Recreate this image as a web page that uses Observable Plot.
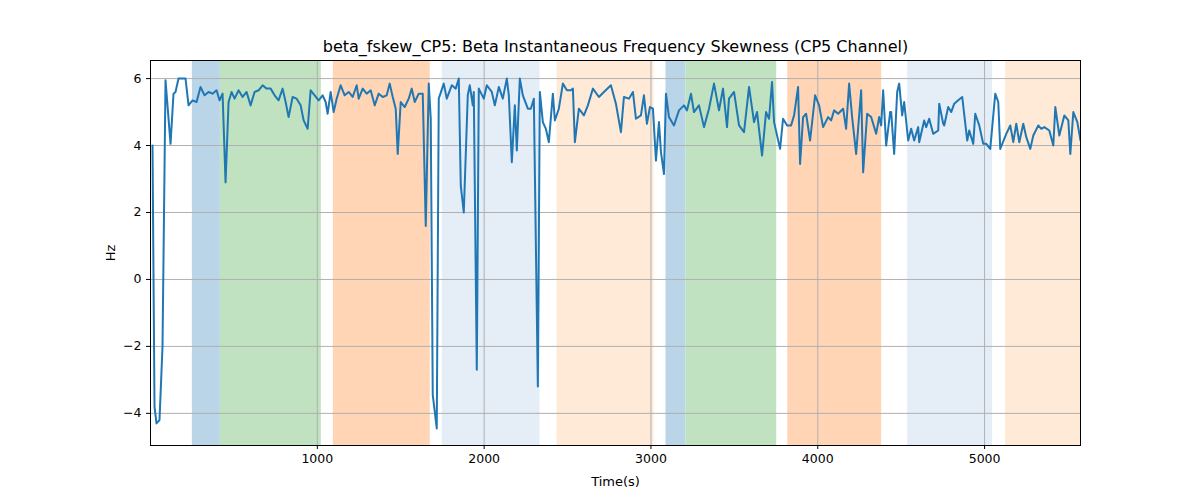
<!DOCTYPE html>
<html>
<head>
<meta charset="utf-8">
<script src="https://cdn.jsdelivr.net/npm/d3@7"></script>
<script src="https://cdn.jsdelivr.net/npm/@observablehq/plot@0.6"></script>
<style>
  body { margin: 0; background: #fff; font-family: "DejaVu Sans", sans-serif; }
</style>
</head>
<body>
<div id="chart"></div>
<script>
// shaded segments: start, end, colour
const spanStart = [251, 419, 1096, 1749, 2437, 3090, 3210, 3820, 4539, 5126];
const spanEnd   = [419, 1024, 1677, 2335, 3018, 3210, 3754, 4383, 5048, 5575];
const spanFill  = ["#bad4e8", "#c0e2c0", "#ffd5b5", "#e5edf7", "#feead6",
                   "#bad4e8", "#c0e2c0", "#ffd5b5", "#e5edf7", "#feead6"];

const times = [12,24,36,54,72,90,120,138,150,168,210,228,252,276,300,324,348,372,396,414,432,450,468,486,504,528,552,576,600,624,648,672,696,720,744,768,792,810,828,852,876,900,918,942,960,984,1008,1032,1050,1062,1080,1098,1116,1140,1164,1188,1212,1236,1248,1272,1296,1320,1344,1368,1392,1416,1434,1452,1470,1482,1500,1524,1548,1566,1584,1608,1632,1650,1668,1680,1692,1716,1728,1758,1776,1806,1830,1848,1860,1878,1902,1914,1932,1938,1956,1968,1998,2016,2046,2064,2088,2112,2136,2148,2166,2184,2196,2214,2232,2262,2280,2298,2322,2334,2352,2370,2388,2412,2424,2448,2472,2496,2520,2532,2544,2568,2598,2622,2652,2688,2718,2760,2790,2820,2838,2868,2892,2910,2940,2958,2976,2994,3012,3030,3048,3060,3078,3090,3108,3138,3168,3198,3216,3240,3258,3288,3318,3348,3378,3408,3432,3456,3468,3498,3528,3558,3588,3618,3636,3666,3690,3708,3726,3738,3774,3792,3816,3840,3858,3882,3894,3912,3930,3954,3984,4008,4032,4062,4080,4098,4122,4152,4170,4188,4206,4230,4260,4272,4296,4320,4350,4368,4380,4392,4410,4434,4440,4458,4476,4488,4506,4518,4542,4560,4578,4602,4608,4638,4650,4668,4692,4722,4728,4752,4758,4782,4800,4818,4842,4866,4896,4908,4932,4944,4968,4992,5010,5034,5064,5082,5094,5130,5154,5172,5190,5208,5232,5250,5274,5292,5322,5340,5358,5388,5412,5424,5448,5478,5502,5514,5532,5556,5575];

const values = [4.0,-3.8,-4.3,-4.2,-2,5.95,4.05,5.55,5.6,6.0,6.0,5.2,5.35,5.3,5.75,5.5,5.6,5.55,5.65,5.35,5.55,2.9,5.3,5.6,5.4,5.65,5.45,5.6,5.2,5.6,5.65,5.8,5.7,5.7,5.5,5.35,5.7,5.3,4.85,5.45,5.4,5.2,4.75,4.5,5.65,5.5,5.35,5.5,5.3,4.95,5.6,5.0,5.4,5.8,5.5,5.6,5.45,5.8,5.4,5.7,5.55,5.65,5.2,5.55,5.45,5.5,5.85,5.45,5.1,3.75,5.3,5.15,5.4,5.7,5.3,5.55,5.55,1.6,5.85,4.8,-3.45,-4.45,5.4,5.85,5.4,5.8,5.7,6.0,2.8,2.0,5.5,5.8,5.2,5.6,-2.7,5.7,5.4,5.8,5.6,5.2,5.75,5.4,6.0,5.5,3.5,5.2,3.85,6.0,5.5,5.1,5.1,5.4,-3.2,5.6,4.7,4.5,4.1,5.55,4.75,5.1,5.85,5.65,5.65,5.7,4.1,5.1,4.9,5.2,5.7,5.45,5.6,5.8,5.25,4.4,5.45,5.4,5.6,4.8,4.9,5.5,4.65,5.15,5.1,3.55,4.7,3.8,3.15,5.55,4.85,4.6,5.05,5.2,5.05,5.55,5.0,5.2,4.55,5.1,5.85,5.05,5.7,4.55,5.4,5.6,4.6,4.4,5.75,4.7,5.0,3.7,5.0,4.8,5.9,4.7,3.9,4.8,4.6,4.6,4.9,5.75,3.45,4.85,4.95,4.15,5.5,5.2,4.55,4.85,4.75,5.05,4.95,5.1,4.5,5.85,4.85,3.75,5.65,3.2,4.95,4.85,4.35,4.85,4.6,5.65,4.0,5.0,5.0,3.75,5.6,5.85,4.9,5.3,4.15,4.5,4.15,4.55,4.1,4.75,4.55,4.8,4.35,4.45,5.25,4.65,4.6,5.15,5.0,5.25,5.35,5.45,4.15,4.45,4.05,4.95,4.6,4.05,4.05,3.9,5.55,5.3,3.9,4.35,4.6,4.1,4.65,4.1,4.65,4.25,3.9,4.3,4.6,4.5,4.55,4.45,4.0,5.15,4.3,4.9,4.75,3.75,5.0,4.7,4.15];

const xTicks = [1000, 2000, 3000, 4000, 5000];
const yTicks = [-4, -2, 0, 2, 4, 6];

const spans = spanStart.map((s, i) => ({x1: s, x2: spanEnd[i], fill: spanFill[i]}));
const series = times.map((t, i) => ({t, v: values[i]}));

const plot = Plot.plot({
  width: 1200,
  height: 500,
  marginTop: 60,
  marginBottom: 55,
  marginLeft: 150,
  marginRight: 120,
  style: {fontFamily: "DejaVu Sans, sans-serif", fontSize: "10px", color: "#000"},
  x: {domain: [0, 5575], ticks: xTicks, tickFormat: d3.format("d"), tickSize: 4, label: "Time(s)", labelAnchor: "center", labelArrow: "none", labelOffset: 40},
  y: {domain: [-4.96, 6.54], ticks: yTicks, tickFormat: d3.format("d"), tickSize: 4, label: "Hz", labelAnchor: "center", labelArrow: "none", labelOffset: 45},
  marks: [
    Plot.rectY(spans, {x1: "x1", x2: "x2", y1: -4.96, y2: 6.54, fill: d => d.fill}),
    Plot.gridX(xTicks, {stroke: "#b0b0b0", strokeOpacity: 1}),
    Plot.gridY(yTicks, {stroke: "#b0b0b0", strokeOpacity: 1}),
    Plot.line(series, {x: "t", y: "v", stroke: "#1f77b4", strokeWidth: 2, clip: true}),
    Plot.frame({stroke: "#000"}),
    Plot.text(["beta_fskew_CP5: Beta Instantaneous Frequency Skewness (CP5 Channel)"],
      {frameAnchor: "top", dy: -20, fontSize: 16, fill: "#000"})
  ]
});
plot.querySelectorAll("[aria-label='x-axis tick label'] text, [aria-label='y-axis tick label'] text")
  .forEach(t => t.setAttribute("font-size", "12.5"));
plot.querySelectorAll("[aria-label='x-axis label'] text, [aria-label='y-axis label'] text")
  .forEach(t => t.setAttribute("font-size", "13"));
document.getElementById("chart").append(plot);
</script>
</body>
</html>
